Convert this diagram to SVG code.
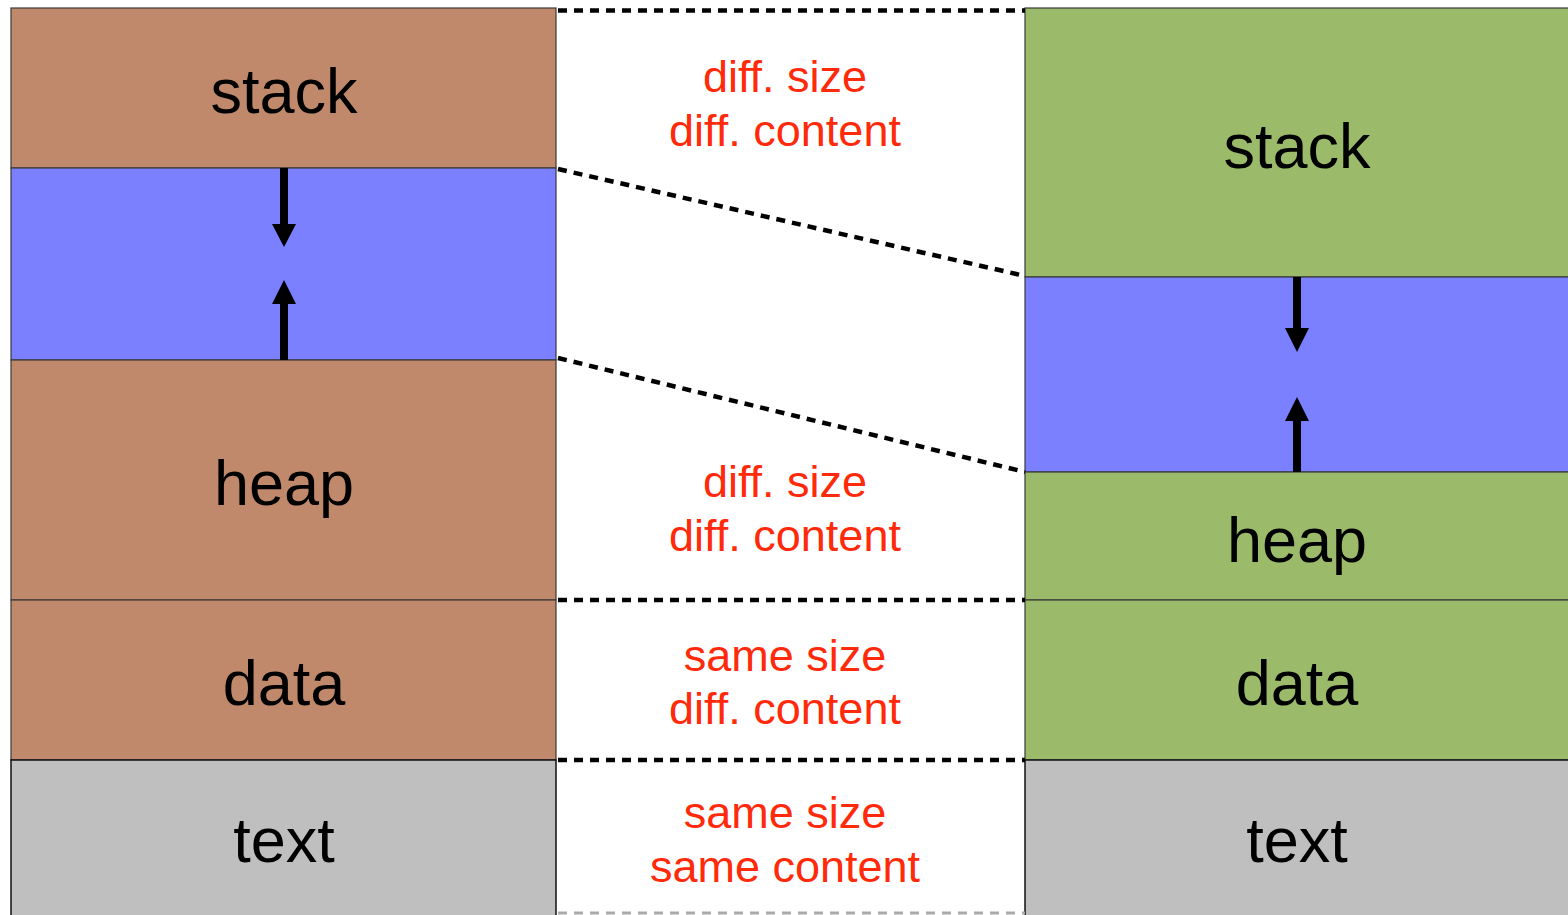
<svg xmlns="http://www.w3.org/2000/svg" width="1568" height="915" viewBox="0 0 1568 915">
<style>
.brown{fill:#c1896b;stroke:#3a3a3a;stroke-width:1.2}
.green{fill:#9bbb6a;stroke:#3a3a3a;stroke-width:1.2}
.blue{fill:#7a80ff;stroke:#3a3a3a;stroke-width:1.2}
.gray{fill:#bfbfbf;stroke:#111;stroke-width:1.5}
.lbl{font-family:"Liberation Sans",Arial,sans-serif;font-size:63px;fill:#000;text-anchor:middle}
.note{font-family:"Liberation Sans",Arial,sans-serif;font-size:45px;fill:#ff2a0a;text-anchor:middle}
.dot{stroke:#000;stroke-width:4.5;stroke-dasharray:9 7;fill:none}
.arrow{fill:#000}
</style>
<g id="left-stack"><rect class="brown" x="11" y="8" width="545" height="160"/><text class="lbl" x="284" y="113">stack</text></g>
<g id="left-gap"><rect class="blue" x="11" y="168" width="545" height="192"/></g>
<g id="left-heap"><rect class="brown" x="11" y="360" width="545" height="240"/><text class="lbl" x="284" y="505">heap</text></g>
<g id="left-data"><rect class="brown" x="11" y="600" width="545" height="160"/><text class="lbl" x="284" y="705">data</text></g>
<g id="left-text"><rect class="gray" x="11" y="760" width="545" height="160"/><text class="lbl" x="284" y="862">text</text></g>
<g id="right-stack"><rect class="green" x="1025" y="8" width="550" height="269"/><text class="lbl" x="1297" y="168">stack</text></g>
<g id="right-gap"><rect class="blue" x="1025" y="277" width="550" height="195"/></g>
<g id="right-heap"><rect class="green" x="1025" y="472" width="550" height="128"/><text class="lbl" x="1297" y="562">heap</text></g>
<g id="right-data"><rect class="green" x="1025" y="600" width="550" height="160"/><text class="lbl" x="1297" y="705">data</text></g>
<g id="right-text"><rect class="gray" x="1025" y="760" width="550" height="160"/><text class="lbl" x="1297" y="862">text</text></g>
<g id="notes">
<text class="note" x="785" y="92">diff. size</text>
<text class="note" x="785" y="146">diff. content</text>
<text class="note" x="785" y="497">diff. size</text>
<text class="note" x="785" y="551">diff. content</text>
<text class="note" x="785" y="671">same size</text>
<text class="note" x="785" y="724">diff. content</text>
<text class="note" x="785" y="828">same size</text>
<text class="note" x="785" y="882">same content</text>
</g>
<g id="connectors">
<line class="dot" x1="558" y1="10.5" x2="1025" y2="10.5"/>
<line class="dot" x1="558" y1="169" x2="1025" y2="276"/>
<line class="dot" x1="558" y1="358" x2="1025" y2="472"/>
<line class="dot" x1="558" y1="600" x2="1025" y2="600"/>
<line class="dot" x1="558" y1="760" x2="1025" y2="760"/>
<line x1="558" y1="913" x2="1025" y2="913" stroke="#aaa" stroke-width="3" stroke-dasharray="9 7"/>
<path class="arrow" d="M280,168 H288 V224 H296 L284,247 L272,224 H280 Z"/>
<path class="arrow" d="M280,360 H288 V304 H296 L284,280 L272,304 H280 Z"/>
<path class="arrow" d="M1293,277 H1301 V328 H1309 L1297,352 L1285,328 H1293 Z"/>
<path class="arrow" d="M1293,472 H1301 V421 H1309 L1297,397 L1285,421 H1293 Z"/>
</g>
</svg>
